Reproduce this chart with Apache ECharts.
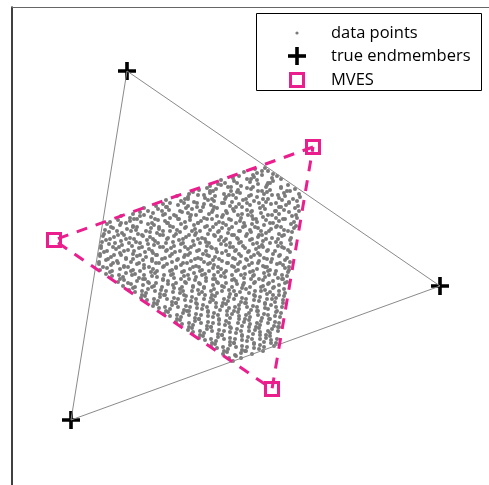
<!DOCTYPE html>
<html>
<head>
<meta charset="utf-8">
<script src="https://cdn.jsdelivr.net/npm/echarts@6/dist/echarts.min.js"></script>
<style>
html,body{margin:0;padding:0;background:#fff;}
#chart{width:489px;height:485px;}
</style>
</head>
<body>
<div id="chart"></div>
<script>
// Vertices of the true simplex (endmembers)
const trueEndmembers = [[127,71],[440,286],[71,420]];
// Vertices estimated by minimum-volume enclosing simplex (MVES)
const mvesVertices = [[313,147],[54,240],[272,389]];
// Legend entries
const legendLabels = ['data points','true endmembers','MVES'];
// Observed data points (projected)
const dataPoints = [
[255,169],[262,171],[265,168],
[244,172],[253,175],[257,173],[268,171],[273,174],
[233,178],[239,176],[251,179],[254,177],[262,175],[272,178],[277,176],
[221,180],[225,183],[234,181],[247,179],[250,182],[257,180],[268,183],[273,181],[281,179],
[210,186],[218,184],[221,185],[231,187],[237,183],[241,186],[253,187],[258,184],[267,185],[270,183],[281,187],[288,185],
[199,190],[207,188],[210,191],[216,189],[228,187],[231,191],[238,190],[247,188],[251,189],[262,191],[266,187],[270,190],[281,188],[287,191],[295,189],
[189,194],[193,192],[204,195],[210,193],[213,191],[224,194],[229,195],[237,192],[240,193],[251,195],[258,191],[264,194],[267,192],[278,195],[284,193],[290,191],[299,194],
[177,196],[185,199],[188,197],[198,195],[205,198],[212,199],[215,196],[226,197],[233,195],[236,198],[246,199],[249,196],[257,197],[268,199],[272,195],[279,198],[285,196],[293,199],[300,197],
[166,200],[170,203],[181,201],[188,199],[194,202],[197,203],[208,200],[214,201],[222,203],[225,199],[232,202],[243,200],[247,203],[254,201],[263,199],[266,202],[276,203],[282,200],[289,202],[297,201],
[156,206],[163,204],[167,207],[178,205],[184,203],[188,206],[197,207],[204,204],[211,205],[214,207],[224,203],[230,206],[239,204],[242,207],[250,205],[259,203],[263,206],[271,204],[279,207],[286,205],[289,203],[298,206],
[144,208],[148,211],[158,209],[166,207],[169,210],[180,211],[186,208],[192,209],[200,211],[203,207],[213,210],[217,208],[226,211],[233,209],[236,207],[247,210],[252,211],[260,208],[265,209],[275,211],[281,207],[284,210],[295,208],[299,211],
[133,214],[140,212],[144,215],[153,213],[162,211],[165,214],[174,215],[182,212],[188,213],[191,215],[201,211],[209,214],[212,212],[223,215],[227,213],[234,211],[242,214],[248,215],[251,212],[261,213],[268,215],[276,211],[279,214],[289,212],[296,215],
[121,216],[130,218],[134,219],[140,216],[151,217],[155,219],[163,215],[170,218],[176,216],[179,219],[190,217],[196,215],[204,218],[207,219],[217,216],[222,217],[229,219],[238,215],[241,218],[252,216],[256,219],[263,217],[272,215],[276,218],[285,219],[292,216],[297,218],
[110,222],[118,220],[121,223],[130,221],[137,219],[141,222],[152,223],[158,220],[165,221],[168,223],[178,219],[185,222],[190,220],[198,223],[201,221],[212,219],[219,222],[223,223],[231,220],[240,221],[244,223],[253,219],[257,222],[266,220],[273,223],[279,221],[283,219],[294,222],
[107,224],[111,227],[120,225],[126,223],[133,226],[137,227],[148,224],[154,225],[159,227],[167,223],[170,226],[181,224],[186,227],[194,225],[198,223],[207,226],[213,227],[216,224],[226,225],[232,227],[236,223],[245,226],[252,224],[255,227],[264,225],[270,223],[277,226],[281,227],[291,224],[296,226],
[105,230],[113,228],[117,231],[127,229],[133,227],[136,230],[146,231],[151,228],[159,229],[163,231],[173,227],[177,230],[185,228],[192,231],[195,229],[205,227],[210,230],[219,231],[222,228],[229,229],[239,231],[243,227],[250,230],[258,228],[261,231],[271,229],[276,227],[284,230],[288,231],[294,228],
[104,234],[109,232],[118,235],[122,233],[131,231],[138,234],[142,235],[150,232],[157,233],[160,235],[170,231],[176,234],[180,232],[189,235],[196,233],[200,231],[208,234],[214,235],[218,232],[228,233],[232,235],[240,231],[247,234],[251,232],[259,235],[266,233],[269,231],[279,234],[284,235],[292,232],
[103,236],[110,239],[114,237],[124,235],[130,238],[134,239],[143,236],[150,237],[153,239],[163,235],[168,238],[174,236],[183,239],[186,237],[195,235],[202,238],[205,239],[215,236],[221,237],[226,239],[234,235],[237,238],[246,236],[252,239],[258,237],[262,235],[272,238],[278,239],[282,236],[291,238],
[102,242],[106,240],[115,243],[121,241],[126,239],[136,242],[140,243],[147,240],[155,241],[158,243],[167,239],[173,242],[179,240],[183,243],[193,241],[198,239],[206,242],[209,243],[219,240],[224,241],[230,243],[238,239],[241,242],[250,240],[257,243],[263,241],[266,239],[276,242],[281,243],[290,240],
[101,246],[109,244],[113,247],[122,245],[129,243],[132,246],[142,247],[148,244],[154,245],[163,247],[166,243],[174,246],[181,244],[185,247],[194,245],[200,243],[207,246],[211,247],[221,244],[226,245],[233,247],[239,243],[243,246],[253,244],[259,247],[262,245],[270,243],[278,246],[282,247],[291,244],
[101,248],[107,251],[116,249],[119,247],[128,250],[134,251],[139,248],[149,249],[152,251],[160,247],[167,250],[171,248],[180,251],[188,249],[191,247],[199,250],[206,251],[212,248],[216,249],[226,251],[230,247],[236,250],[245,248],[249,251],[256,249],[263,247],[268,250],[275,251],[284,248],[288,250],
[100,254],[104,252],[114,255],[120,253],[124,251],[133,254],[140,255],[145,252],[153,253],[157,255],[166,251],[172,254],[175,252],[185,255],[190,253],[197,251],[203,254],[207,255],[217,252],[222,253],[228,255],[235,251],[239,254],[248,252],[254,255],[258,253],[267,251],[273,254],[280,255],[290,252],
[100,256],[108,259],[111,257],[121,255],[126,258],[133,259],[137,256],[146,257],[152,259],[156,255],[165,258],[170,256],[178,259],[184,257],[188,255],[198,258],[201,259],[209,256],[215,257],[219,259],[229,255],[233,258],[241,256],[246,259],[251,257],[260,255],[264,258],[272,259],[279,256],[287,258],
[99,262],[106,260],[113,263],[117,261],[126,259],[131,262],[139,263],[143,260],[152,261],[159,263],[162,259],[172,262],[177,260],[183,263],[191,261],[195,259],[204,262],[210,263],[213,260],[222,261],[228,263],[235,259],[240,262],[247,260],[252,263],[259,261],[267,259],[271,262],[280,263],[285,260],[290,262],
[99,264],[103,267],[111,265],[118,263],[124,266],[128,267],[137,264],[144,265],[149,267],[156,263],[164,266],[167,264],[176,267],[181,265],[187,263],[196,266],[199,267],[208,264],[214,265],[218,267],[227,263],[232,266],[238,264],[245,267],[249,265],[258,263],[263,266],[267,267],[277,264],[283,265],[289,267],
[100,270],[107,268],[112,271],[120,269],[124,267],[133,270],[140,271],[144,268],[153,269],[157,271],[163,267],[172,270],[176,268],[184,271],[190,269],[193,267],[202,270],[209,271],[213,268],[221,269],[226,271],[234,267],[238,270],[244,268],[253,271],[257,269],[265,267],[270,270],[276,271],[285,268],[289,270],
[106,274],[110,272],[119,275],[126,273],[131,271],[135,274],[144,275],[151,272],[155,273],[164,275],[170,271],[173,274],[182,272],[188,275],[194,273],[200,271],[205,274],[214,275],[218,272],[224,273],[232,275],[236,271],[245,274],[250,272],[254,275],[264,273],[268,271],[275,274],[282,275],[288,272],
[112,276],[120,279],[123,277],[132,275],[139,278],[143,279],[152,276],[157,277],[163,279],[171,275],[174,278],[184,276],[189,279],[196,277],[202,275],[206,278],[215,279],[221,276],[225,277],[234,279],[241,275],[244,278],[253,276],[259,279],[265,277],[269,275],[278,278],[283,279],[287,276],
[118,282],[124,280],[128,283],[137,281],[145,279],[148,282],[156,283],[163,280],[168,281],[176,283],[181,279],[185,282],[195,280],[199,283],[206,281],[213,279],[217,282],[226,283],[232,280],[236,281],[244,283],[251,279],[255,282],[263,280],[269,283],[273,281],[282,279],[287,282],
[123,286],[131,284],[135,287],[143,285],[149,283],[154,286],[162,287],[168,284],[173,285],[182,287],[186,283],[193,286],[200,284],[204,287],[213,285],[218,283],[222,286],[232,287],[237,284],[243,285],[250,287],[254,283],[263,286],[268,284],[274,287],[279,285],[285,283],
[129,290],[133,288],[142,291],[148,289],[152,287],[161,290],[166,291],[174,288],[180,289],[183,291],[193,287],[198,290],[204,288],[211,291],[214,289],[224,287],[229,290],[234,291],[242,288],[246,289],[255,291],[261,287],[265,290],[273,288],[279,291],[284,289],
[135,292],[142,295],[146,293],[155,291],[160,294],[164,295],[173,292],[180,293],[184,295],[192,291],[199,294],[202,292],[212,295],[217,293],[222,291],[230,294],[236,295],[240,292],[249,293],[254,295],[261,291],[267,294],[270,292],[279,295],[285,293],
[141,298],[145,296],[154,299],[160,297],[165,295],[174,298],[178,299],[186,296],[192,297],[196,299],[205,295],[211,298],[215,296],[224,299],[229,297],[236,295],[242,298],[246,299],[255,296],[260,297],[267,299],[273,295],[276,298],[284,296],
[147,300],[154,303],[158,301],[167,299],[172,302],[176,303],[185,300],[191,301],[196,303],[204,299],[210,302],[213,300],[223,303],[228,301],[234,299],[241,302],[245,303],[254,300],[259,301],[265,303],[272,299],[275,302],[283,300],
[153,306],[157,304],[165,307],[172,305],[176,303],[186,306],[190,307],[197,304],[203,305],[207,307],[216,303],[222,306],[226,304],[235,307],[239,305],[246,303],[253,306],[257,307],[265,304],[271,305],[276,307],[283,303],
[159,308],[166,311],[170,309],[178,307],[184,310],[189,311],[197,308],[202,309],[208,311],[216,307],[220,310],[229,308],[234,311],[239,309],[247,307],[251,310],[258,311],[265,308],[268,309],[277,311],[282,307],
[164,314],[168,312],[177,315],[183,313],[187,311],[196,314],[201,315],[208,312],[214,313],[218,315],[227,311],[232,314],[238,312],[246,315],[249,313],[257,311],[264,314],[268,315],[276,312],[281,313],
[170,316],[177,319],[181,317],[189,315],[195,318],[199,319],[208,316],[213,317],[219,319],[227,315],[230,318],[239,316],[245,319],[250,317],[258,315],[262,318],[270,319],[275,316],[280,317],
[176,322],[180,320],[189,323],[195,321],[199,319],[208,322],[213,323],[219,320],[226,321],[229,323],[239,319],[244,322],[249,320],[257,323],[261,321],[269,319],[275,322],[279,323],
[182,324],[189,327],[193,325],[201,323],[207,326],[211,327],[219,324],[225,325],[230,327],[238,323],[242,326],[250,324],[256,327],[260,325],[268,323],[274,326],[279,327],
[188,330],[192,328],[200,331],[207,329],[211,327],[219,330],[224,331],[231,328],[237,329],[241,331],[249,327],[255,330],[259,328],[268,331],[272,329],[278,327],
[193,332],[200,335],[204,333],[212,331],[218,334],[222,335],[230,332],[236,333],[242,335],[249,331],[253,334],[260,332],[266,335],[270,333],[278,331],
[199,338],[203,336],[211,339],[218,337],[222,335],[230,338],[235,339],[242,336],[248,337],[252,339],[260,335],[266,338],[270,336],[277,339],
[205,340],[212,343],[216,341],[224,339],[230,342],[234,343],[242,340],[247,341],[254,343],[260,339],[264,342],[271,340],[276,343],
[211,346],[215,344],[223,347],[230,345],[234,343],[242,346],[247,347],[254,344],[260,345],[264,347],[271,343],[274,346],
[217,348],[224,351],[228,349],[236,347],[242,350],[246,351],[254,348],[259,349],[263,351],
[223,354],[227,352],[235,355],[241,353],[245,351],[252,354],
[229,358],[236,356],[241,358],
[233,361]
];

const MAGENTA = '#ea1e8c';
const PLUS = 'path://M7.2,0h3.6v7.2h7.2v3.6h-7.2v7.2h-3.6v-7.2h-7.2v-3.6h7.2z';
const closed = pts => pts.concat([pts[0]]);

const chart = echarts.init(document.getElementById('chart'), null, {renderer: 'canvas'});

const hiddenAxis = {
  type: 'value',
  axisTick: {show: false},
  axisLabel: {show: false},
  splitLine: {show: false}
};

const legendFont = '16.5px "Open Sans"';
const legendRows = [33, 56, 80];

chart.setOption({
  animation: false,
  backgroundColor: '#fff',
  grid: {left: 12, top: 7, width: 500, height: 500, outerBoundsMode: 'none', containLabel: false},
  xAxis: Object.assign({}, hiddenAxis, {
    min: 12, max: 512, position: 'top',
    axisLine: {show: true, onZero: false, lineStyle: {color: '#666', width: 1}}
  }),
  yAxis: Object.assign({}, hiddenAxis, {
    min: 7, max: 507, inverse: true, position: 'left',
    axisLine: {show: true, onZero: false, lineStyle: {color: '#000', width: 1.5}}
  }),
  series: [
    {
      name: legendLabels[0], type: 'scatter', data: dataPoints,
      symbol: 'circle', symbolSize: 4, silent: true,
      itemStyle: {color: '#7a7a7a', opacity: 1}
    },
    {
      type: 'line', data: closed(trueEndmembers), symbol: 'none', silent: true,
      lineStyle: {color: '#8a8a8a', width: 1}
    },
    {
      type: 'line', data: closed(mvesVertices), symbol: 'none', silent: true,
      lineStyle: {color: MAGENTA, width: 3, type: [11, 9], cap: 'butt'}
    },
    {
      name: legendLabels[1], type: 'scatter', data: trueEndmembers,
      symbol: PLUS, symbolSize: 18, silent: true,
      itemStyle: {color: '#000', opacity: 1}
    },
    {
      name: legendLabels[2], type: 'scatter', data: mvesVertices,
      symbol: 'rect', symbolSize: 13, silent: true,
      itemStyle: {color: 'rgba(255,255,255,0)', borderColor: MAGENTA, borderWidth: 3, opacity: 1}
    }
  ],
  graphic: [
    {type: 'rect', shape: {x: 256.5, y: 13.5, width: 225, height: 77},
     style: {fill: '#fff', stroke: '#000', lineWidth: 1}, z: 10},
    {type: 'circle', shape: {cx: 297, cy: legendRows[0], r: 1.6},
     style: {fill: '#7a7a7a'}, z: 11},
    {type: 'rect', shape: {x: 288, y: legendRows[1] - 1.8, width: 18, height: 3.6},
     style: {fill: '#000'}, z: 11},
    {type: 'rect', shape: {x: 295.2, y: legendRows[1] - 9, width: 3.6, height: 18},
     style: {fill: '#000'}, z: 11},
    {type: 'rect', shape: {x: 290.5, y: legendRows[2] - 6.5, width: 13, height: 13},
     style: {fill: '#fff', stroke: MAGENTA, lineWidth: 3}, z: 11},
    {type: 'text', x: 331, y: legendRows[0],
     style: {text: legendLabels[0], font: legendFont, fill: '#000', verticalAlign: 'middle'}, z: 11},
    {type: 'text', x: 331, y: legendRows[1],
     style: {text: legendLabels[1], font: legendFont, fill: '#000', verticalAlign: 'middle'}, z: 11},
    {type: 'text', x: 331, y: legendRows[2],
     style: {text: legendLabels[2], font: legendFont, fill: '#000', verticalAlign: 'middle'}, z: 11}
  ]
});
</script>
</body>
</html>
